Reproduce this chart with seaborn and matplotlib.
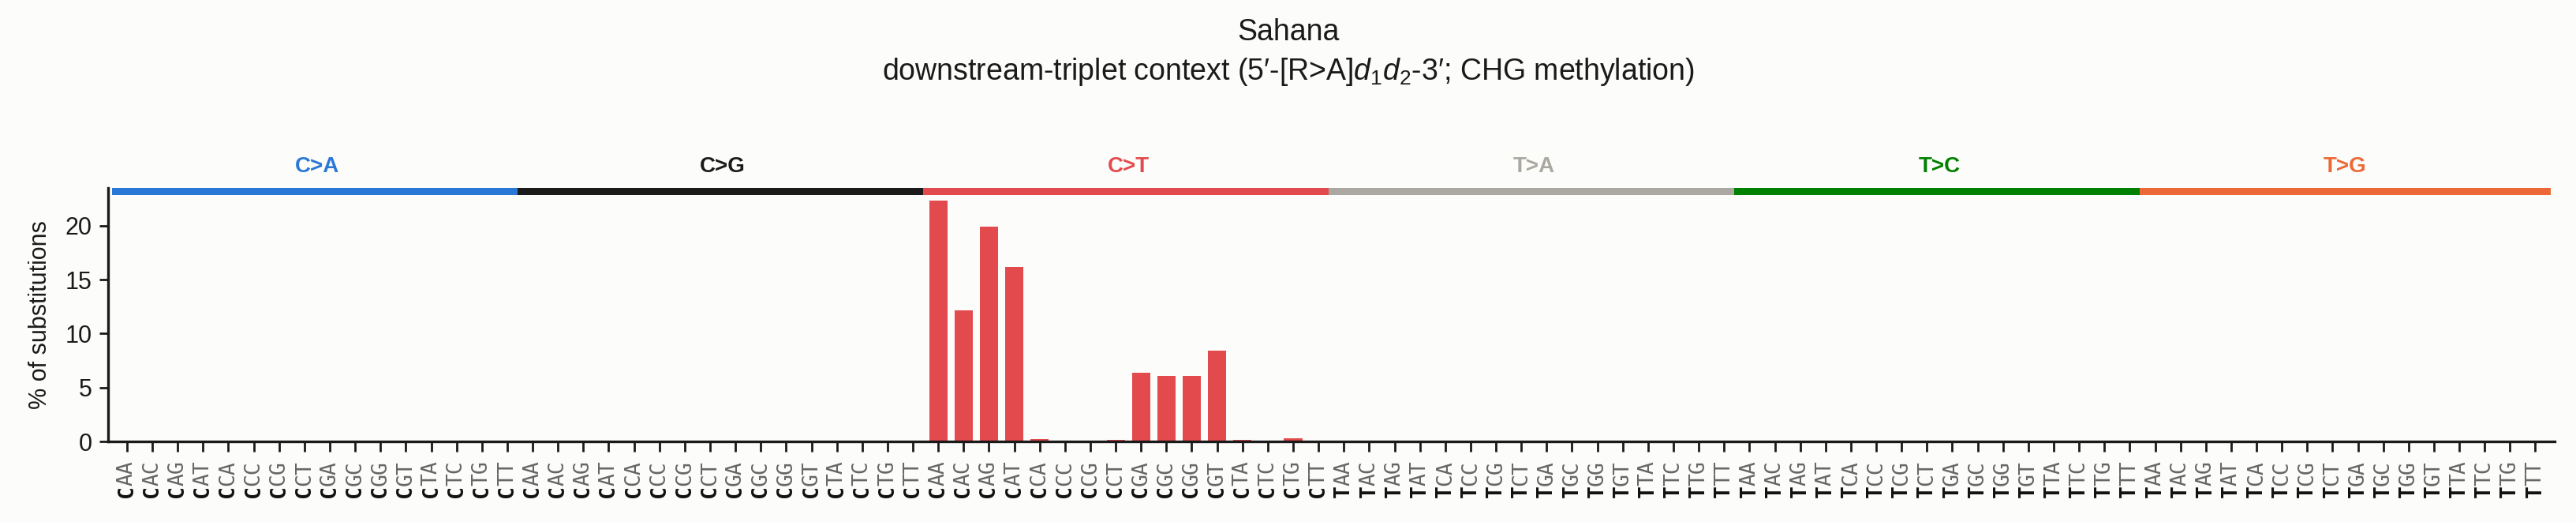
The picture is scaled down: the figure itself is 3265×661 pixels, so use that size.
import matplotlib
matplotlib.use("Agg")
import matplotlib.pyplot as plt
import matplotlib.transforms as mtransforms
from matplotlib.patches import Rectangle
import pandas as pd
import seaborn as sns

# mutation classes and their colours
SUBSTITUTIONS = ["C>A", "C>G", "C>T", "T>A", "T>C", "T>G"]
SUB_COLORS = ["#2A78D6", "#1A1A1A", "#E34A4D", "#AAA8A0", "#008000", "#EC6837"]
REF_BASES = ["C", "C", "C", "T", "T", "T"]
DOWNSTREAM = ["AA", "AC", "AG", "AT", "CA", "CC", "CG", "CT",
              "GA", "GC", "GG", "GT", "TA", "TC", "TG", "TT"]

# % of substitutions per downstream context (d1 d2), one list per class
pct_c_a = [0.0, 0.0, 0.0, 0.0, 0.0, 0.0, 0.0, 0.0,
           0.0, 0.0, 0.0, 0.0, 0.0, 0.0, 0.0, 0.0]
pct_c_g = [0.0, 0.0, 0.0, 0.0, 0.0, 0.0, 0.0, 0.0,
           0.0, 0.0, 0.0, 0.0, 0.0, 0.0, 0.0, 0.0]
pct_c_t = [22.37, 12.18, 19.95, 16.21, 0.25, 0.0, 0.0, 0.15,
           6.38, 6.09, 6.09, 8.43, 0.15, 0.07, 0.29, 0.07]
pct_t_a = [0.0, 0.0, 0.0, 0.0, 0.0, 0.0, 0.0, 0.0,
           0.0, 0.0, 0.0, 0.0, 0.0, 0.0, 0.0, 0.0]
pct_t_c = [0.0, 0.0, 0.0, 0.0, 0.0, 0.0, 0.0, 0.0,
           0.0, 0.0, 0.0, 0.0, 0.05, 0.0, 0.0, 0.0]
pct_t_g = [0.0, 0.0, 0.0, 0.0, 0.0, 0.0, 0.0, 0.0,
           0.0, 0.0, 0.0, 0.0, 0.0, 0.0, 0.0, 0.0]

TITLE = "Sahana\ndownstream-triplet context (5\u2032-[R>A]$d_1d_2$-3\u2032; CHG methylation)"
YLABEL = "% of substitutions"
YTICKS = [0, 5, 10, 15, 20]

BG = "#FCFCFA"

sns.set_style("ticks")
plt.rcParams.update({
    "font.family": ["Liberation Sans", "DejaVu Sans"],
    "mathtext.fontset": "custom",
    "mathtext.rm": "Liberation Sans",
    "mathtext.it": "Liberation Sans:italic",
    "mathtext.bf": "Liberation Sans:bold",
    "figure.facecolor": BG,
    "axes.facecolor": BG,
    "savefig.facecolor": BG,
})

# build long table
rows = []
all_values = [pct_c_a, pct_c_g, pct_c_t, pct_t_a, pct_t_c, pct_t_g]
for sub, ref, vals in zip(SUBSTITUTIONS, REF_BASES, all_values):
    for d, v in zip(DOWNSTREAM, vals):
        rows.append({"sub": sub, "ref": ref, "ctx": d, "pct": v})
df = pd.DataFrame(rows)
df["pos"] = range(len(df))

fig = plt.figure(figsize=(16.33, 3.305), dpi=200)
ax = fig.add_axes([0.0419, 0.1543, 0.9494, 0.4852])

palette = dict(zip(SUBSTITUTIONS, SUB_COLORS))
sns.barplot(data=df, x="pos", y="pct", hue="sub", palette=palette,
            dodge=False, width=0.72, linewidth=0, saturation=1,
            legend=False, ax=ax)

ymax = df["pct"].max() * 1.05
ax.set_ylim(0, ymax)
ax.set_xlim(-0.75, len(df) - 0.25)
ax.set_yticks(YTICKS)
ax.set_ylabel(YLABEL, fontsize=11, color="#1A1A1A", labelpad=6)
ax.set_xlabel("")
sns.despine(ax=ax)
for side in ("left", "bottom"):
    ax.spines[side].set_linewidth(1.2)
    ax.spines[side].set_color("#1A1A1A")
ax.tick_params(axis="y", labelsize=11, length=3.8, width=1.0,
               colors="#1A1A1A")
ax.tick_params(axis="x", length=4.7, width=1.0, colors="#1A1A1A")
ax.set_xticks(df["pos"])
ax.set_xticklabels([])

# coloured class bands along the top
band = mtransforms.blended_transform_factory(ax.transData, ax.transAxes)
n = len(DOWNSTREAM)
for k, (sub, col) in enumerate(zip(SUBSTITUTIONS, SUB_COLORS)):
    ax.add_patch(Rectangle((k * n - 0.6, 0.972), n + 0.2, 0.03,
                           transform=band, color=col, clip_on=False,
                           linewidth=0))
    ax.text(k * n + (n - 1) / 2, 1.045, sub, transform=band, ha="center",
            va="bottom", fontsize=10, fontweight="bold", color=col)

# two-tone tick labels: bold reference base + grey downstream pair
xt = ax.get_xaxis_transform()
junction = mtransforms.offset_copy(xt, fig=fig, x=0, y=-20, units="points")
for pos, ref, ctx in zip(df["pos"], df["ref"], df["ctx"]):
    ax.text(pos, 0, ctx, transform=junction, rotation=90,
            rotation_mode="anchor", ha="left", va="center",
            family="DejaVu Sans Mono", fontsize=9.5, color="#666666")
    ax.text(pos, 0, ref, transform=junction, rotation=90,
            rotation_mode="anchor", ha="right", va="center",
            family="DejaVu Sans Mono", fontsize=9.5, fontweight="bold",
            color="#111111")

fig.suptitle(TITLE, y=0.965, va="top", fontsize=13.5, linespacing=1.4,
             color="#1A1A1A")

fig.savefig("out.png", dpi=200)
